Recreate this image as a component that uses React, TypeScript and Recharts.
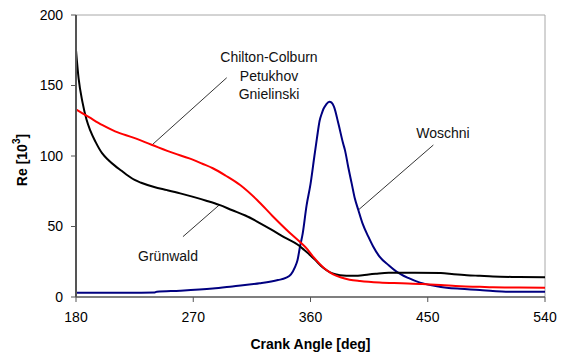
import { LineChart, Line, XAxis, YAxis, ReferenceLine, Label } from "recharts";

// Re [10^3] vs crank angle
const grunwaldAngle = [180, 182, 185, 188, 191, 195, 200, 205, 210, 215, 220, 225, 230, 240, 250, 260, 270, 280, 290, 300, 310, 320, 330, 340, 350, 355, 360, 365, 370, 375, 380, 385, 390, 395, 400, 410, 420, 440, 460, 470, 480, 490, 500, 520, 540];
const grunwaldRe = [175, 155, 138, 126, 118, 110, 102, 97, 93, 89.5, 86, 83, 81, 78, 75.8, 73.5, 71, 68.3, 65.3, 61.5, 57.8, 53, 47.8, 42.3, 37.2, 33.5, 29.5, 25, 20.5, 17.5, 16, 15.2, 15, 15, 15.5, 16.5, 17.2, 17.2, 17, 16.2, 15.5, 15, 14.5, 14.2, 14];

const gnielinskiAngle = [180, 190, 200, 210, 224, 238, 255, 267, 277, 285, 295, 306, 319, 331, 344, 352, 357, 362, 367, 372, 377, 383, 390, 398, 413, 430, 446, 460, 475, 490, 500, 520, 540];
const gnielinskiRe = [133, 127.5, 122, 117.5, 113, 108, 102, 98.3, 94.5, 91.3, 86, 79.4, 68.8, 57.3, 45.6, 39, 34.5, 28.6, 23.5, 19.3, 16.3, 14, 12.3, 11.3, 10.2, 9.7, 9.2, 8.5, 7.6, 7.2, 6.9, 6.7, 6.6];

const woschniAngle = [180, 200, 220, 240, 242, 260, 285, 300, 321, 335, 341, 345, 348, 350, 352, 354, 357, 360, 363, 365, 367, 368.6, 370, 372, 374.5, 376, 378, 381.4, 385, 386.5, 389, 391.6, 394, 396.7, 400, 404.4, 408, 413, 420, 426, 435, 444, 455, 464.5, 475, 490, 500, 510, 540];
const woschniRe = [3, 3, 3, 3.2, 3.8, 4.5, 6, 7.5, 9.7, 12, 13.5, 16, 21, 26, 36, 45, 65, 80, 100, 113, 125, 130, 133.5, 136.5, 138.5, 138, 135, 123, 109, 104, 92, 80.6, 70, 61.7, 52, 42.8, 36, 28.6, 22.5, 18, 13.5, 10.2, 8, 6.6, 5.8, 5, 4.3, 3.8, 3.8];

const xTicks = [180, 270, 360, 450, 540];
const yTicks = [0, 50, 100, 150, 200];

const toPoints = (angle: number[], re: number[]) => angle.map((a, i) => ({ angle: a, re: re[i] }));

const font = "'Liberation Sans', Arial, sans-serif";

export default function App() {
  const tick = { fontSize: 14, fill: "#000", fontFamily: font };
  const note: React.CSSProperties = {
    position: "absolute",
    fontFamily: font,
    fontSize: 14,
    color: "#111",
    textAlign: "center",
    lineHeight: "18.5px",
    whiteSpace: "nowrap",
    transform: "translate(-50%, -50%)",
  };

  return (
    <div style={{ position: "absolute", left: 0, top: 0, width: 564, height: 356, background: "#fff" }}>
      <LineChart width={564} height={356} margin={{ top: 15, right: 19, bottom: 0, left: 0 }}>
        <XAxis
          type="number"
          dataKey="angle"
          domain={[180, 540]}
          ticks={xTicks}
          allowDuplicatedCategory={false}
          height={59}
          tick={tick}
          tickSize={5}
          tickMargin={10}
          axisLine={{ stroke: "#555", strokeWidth: 1.5 }}
          tickLine={{ stroke: "#555" }}
        >
          <Label
            value="Crank Angle [deg]"
            position="insideBottom"
            offset={7}
            style={{ fontSize: 14, fontWeight: "bold", fill: "#000", fontFamily: font }}
          />
        </XAxis>
        <YAxis
          type="number"
          dataKey="re"
          domain={[0, 200]}
          ticks={yTicks}
          width={76}
          tick={tick}
          tickSize={5}
          tickMargin={8}
          axisLine={{ stroke: "#555", strokeWidth: 2 }}
          tickLine={{ stroke: "#555" }}
        >
          <Label
            content={(props: any) => {
              const vb = props.viewBox || {};
              const cx = 22;
              const cy = (vb.y ?? 15) + (vb.height ?? 282) / 2 + 4;
              return (
                <text
                  x={cx}
                  y={cy}
                  transform={`rotate(-90 ${cx} ${cy})`}
                  textAnchor="middle"
                  dominantBaseline="central"
                  style={{ fontSize: 14, fontWeight: "bold", fill: "#000", fontFamily: font }}
                >
                  Re [10
                  <tspan dy={-6} style={{ fontSize: 10 }}>3</tspan>
                  <tspan dy={6}>]</tspan>
                </text>
              );
            }}
          />
        </YAxis>

        <ReferenceLine y={200} stroke="#a8a8a8" strokeWidth={1} />
        <ReferenceLine x={540} stroke="#a8a8a8" strokeWidth={1} />

        {/* leader lines for the curve labels */}
        <ReferenceLine segment={[{ x: 295.7, y: 155.5 }, { x: 238.3, y: 107.8 }]} stroke="#000" strokeWidth={0.8} />
        <ReferenceLine segment={[{ x: 454.3, y: 107.8 }, { x: 396.7, y: 61.7 }]} stroke="#000" strokeWidth={0.8} />
        <ReferenceLine segment={[{ x: 262.1, y: 42.8 }, { x: 290.5, y: 65.7 }]} stroke="#000" strokeWidth={0.8} />

        <Line
          data={toPoints(woschniAngle, woschniRe)}
          dataKey="re"
          type="monotone"
          stroke="#000080"
          strokeWidth={2}
          dot={false}
          isAnimationActive={false}
        />
        <Line
          data={toPoints(grunwaldAngle, grunwaldRe)}
          dataKey="re"
          type="monotone"
          stroke="#000"
          strokeWidth={2}
          dot={false}
          isAnimationActive={false}
        />
        <Line
          data={toPoints(gnielinskiAngle, gnielinskiRe)}
          dataKey="re"
          type="monotone"
          stroke="#ff0000"
          strokeWidth={2}
          dot={false}
          isAnimationActive={false}
        />
      </LineChart>

      <div style={{ ...note, left: 269, top: 76 }}>
        Chilton-Colburn
        <br />
        Petukhov
        <br />
        Gnielinski
      </div>
      <div style={{ ...note, left: 443, top: 133 }}>Woschni</div>
      <div style={{ ...note, left: 168, top: 256 }}>Grünwald</div>
    </div>
  );
}
